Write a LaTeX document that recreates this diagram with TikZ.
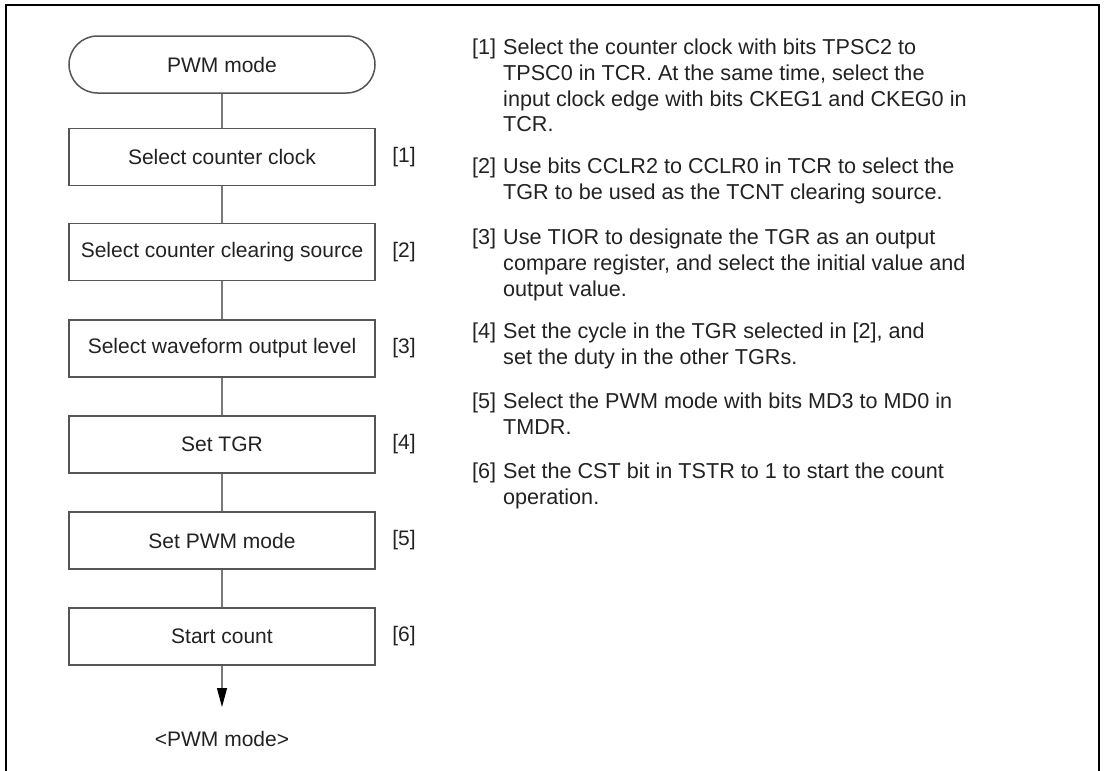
\documentclass[tikz,border=0pt]{standalone}
\usepackage{fontspec}
\setmainfont{Liberation Sans}
\usetikzlibrary{arrows.meta}
\definecolor{boxgray}{HTML}{555555}
\definecolor{linegray}{HTML}{7A7A7A}
\definecolor{txt}{HTML}{222222}
\newcommand\mainfs{\fontsize{21}{25.7}\selectfont}
\newcommand\parfs{\fontsize{21.6}{25.7}\selectfont}
\newcommand\toprule{\rule{0pt}{16pt}}
\begin{document}
\begin{tikzpicture}[x=1pt,y=-1pt,
  stepbox/.style={draw=boxgray, line width=1.5pt, minimum width=306pt, minimum height=57pt, inner sep=0pt, font=\mainfs, text=txt},
  term/.style={stepbox, rounded corners=28.5pt},
  lbl/.style={inner sep=0pt, font=\mainfs, text=txt},
  plbl/.style={inner sep=0pt, font=\parfs, text=txt, anchor=base west},
  para/.style={inner sep=0pt, font=\parfs, text=txt, align=left, anchor=north west},
  conn/.style={draw=linegray, line width=1.1pt}]
\useasboundingbox (0,0) rectangle (1104,771);
\draw[line width=2.6pt] (6,775) -- (6,5) -- (1099,5) -- (1099,775);

\node[term] (start) at (222,64.5) {PWM mode};
\node[stepbox] (b1) at (222,157) {Select counter clock};
\node[stepbox] (b2) at (222,252) {Select counter clearing source};
\node[stepbox] (b3) at (222,348.5) {Select waveform output level};
\node[stepbox] (b4) at (222,444.5) {Set TGR};
\node[stepbox] (b5) at (222,540.5) {Set PWM mode};
\node[stepbox] (b6) at (222,636.5) {Start count};
\coordinate (tip) at (222,707);
\node[lbl] (endlbl) at (222,739) {<PWM mode>};

\node[lbl] (l1) at (404,157) {[1]};
\node[lbl] (l2) at (404,252) {[2]};
\node[lbl] (l3) at (404,348.5) {[3]};
\node[lbl] (l4) at (404,444.5) {[4]};
\node[lbl] (l5) at (404,540.5) {[5]};
\node[lbl] (l6) at (404,636.5) {[6]};

\draw[conn] (start) -- (b1);
\draw[conn] (b1) -- (b2);
\draw[conn] (b2) -- (b3);
\draw[conn] (b3) -- (b4);
\draw[conn] (b4) -- (b5);
\draw[conn] (b5) -- (b6);
\draw[conn, -{Triangle[length=19pt,width=10pt,color=black]}] (b6) -- (tip);

\node[plbl] (n1) at (472,54.5) {[1]};
\node[para] (p1) at (503,38.5) {\toprule Select the counter clock with bits TPSC2 to\\TPSC0 in TCR. At the same time, select the\\input clock edge with bits CKEG1 and CKEG0 in\\TCR.};
\node[plbl] (n2) at (472,173.5) {[2]};
\node[para] (p2) at (503,157.5) {\toprule Use bits CCLR2 to CCLR0 in TCR to select the\\TGR to be used as the TCNT clearing source.};
\node[plbl] (n3) at (472,244.5) {[3]};
\node[para] (p3) at (503,228.5) {\toprule Use TIOR to designate the TGR as an output\\compare register, and select the initial value and\\output value.};
\node[plbl] (n4) at (472,338.5) {[4]};
\node[para] (p4) at (503,322.5) {\toprule Set the cycle in the TGR selected in [2], and\\set the duty in the other TGRs.};
\node[plbl] (n5) at (472,408.5) {[5]};
\node[para] (p5) at (503,392.5) {\toprule Select the PWM mode with bits MD3 to MD0 in\\TMDR.};
\node[plbl] (n6) at (472,478.5) {[6]};
\node[para] (p6) at (503,462.5) {\toprule Set the CST bit in TSTR to 1 to start the count\\operation.};
\end{tikzpicture}
\end{document}
